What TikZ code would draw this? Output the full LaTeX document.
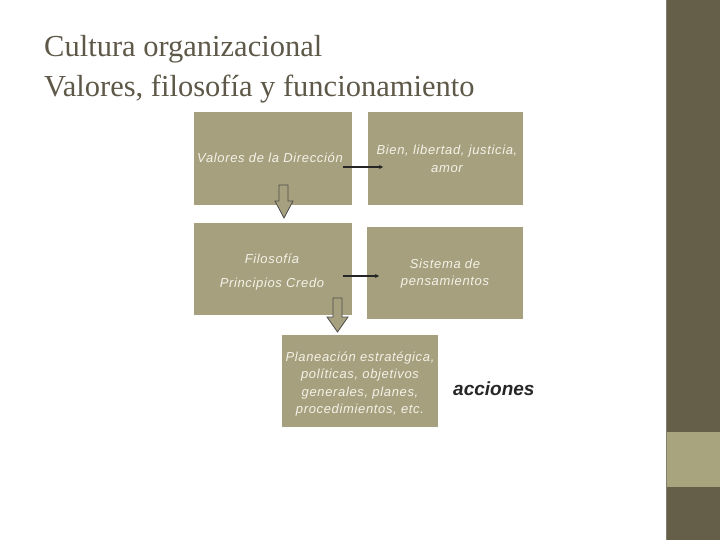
\documentclass[tikz,border=0pt]{standalone}
\usepackage{fontspec}
\setmainfont{Liberation Serif}
\newfontfamily\boxfont[LetterSpace=5]{Liberation Sans}
\newfontfamily\actfont{Liberation Sans}
\usetikzlibrary{arrows.meta}
\definecolor{boxfill}{HTML}{A6A07E}
\definecolor{side}{HTML}{655E48}
\definecolor{sidelight}{HTML}{A8A47E}
\definecolor{titlec}{HTML}{5E5848}
\definecolor{btext}{HTML}{F4F2E8}
\tikzset{
  tbox/.style={fill=boxfill, draw=none, inner sep=0pt, anchor=north west},
  btxt/.style={text=btext, align=center, inner sep=0pt, anchor=center, font=\boxfont\itshape\fontsize{13}{17.5}\selectfont},
  ttl/.style={anchor=base west, text=titlec, font=\fontsize{30.5}{40}\selectfont, inner sep=0pt},
  link/.style={draw=black!85, line width=1.3pt, -{Stealth[length=4pt,width=4pt]}},
  blockarrow/.style={fill=boxfill, draw=black!70, line width=0.8pt}
}
\begin{document}
\begin{tikzpicture}[x=1pt,y=-1pt]
\useasboundingbox (0,0) rectangle (720,540);
\fill[white] (0,0) rectangle (720,540);
% sidebar
\fill[side] (666,0) rectangle (720,540);
\fill[sidelight] (666,432) rectangle (720,487);
\draw[side!80!white, line width=0.6pt] (666.5,0) -- (666.5,540);
% title
\node[ttl] (title) at (44,57) {Cultura organizacional};
\node[ttl] (title2) at (44,97) {Valores, filosofía y funcionamiento};
% boxes
\node[tbox, minimum width=158pt, minimum height=93pt] (b1) at (194,112) {};
\node[btxt, anchor=base] (t1) at (270,163) {Valores de la Dirección};
\node[tbox, minimum width=155pt, minimum height=93pt] (b2) at (368,112) {};
\node[btxt] (t2) at (447,159) {Bien, libertad, justicia,\\amor};
\node[tbox, minimum width=158pt, minimum height=92pt] (b3) at (194,223) {};
\node[btxt, font=\boxfont\itshape\fontsize{13}{24}\selectfont] (t3) at (272,272) {Filosofía\\Principios Credo};
\node[tbox, minimum width=156pt, minimum height=92pt] (b4) at (367,227) {};
\node[btxt] (t4) at (445,273.5) {Sistema de\\pensamientos};
\node[tbox, minimum width=156pt, minimum height=92pt] (b5) at (282,335) {};
\node[btxt] (t5) at (360,384) {Planeación estratégica,\\políticas, objetivos\\generales, planes,\\procedimientos, etc.};
\node[anchor=base west, font=\actfont\bfseries\itshape\fontsize{19}{22}\selectfont, text=black!85, inner sep=0pt] (acc) at (453,395) {acciones};
% connectors
\coordinate (l1s) at (343,167); \coordinate (l1e) at (383,167);
\draw[link] (l1s) -- (l1e);
\coordinate (l2s) at (343,276); \coordinate (l2e) at (379,276);
\draw[link] (l2s) -- (l2e);
% block arrows
\draw[blockarrow] (279,185) -- (288,185) -- (288,201) -- (293,201) -- (284,218) -- (275,201) -- (279,201) -- cycle;
\draw[blockarrow] (333,298) -- (342,298) -- (342,317) -- (348,317) -- (337.5,332) -- (327,317) -- (333,317) -- cycle;
\end{tikzpicture}
\end{document}
